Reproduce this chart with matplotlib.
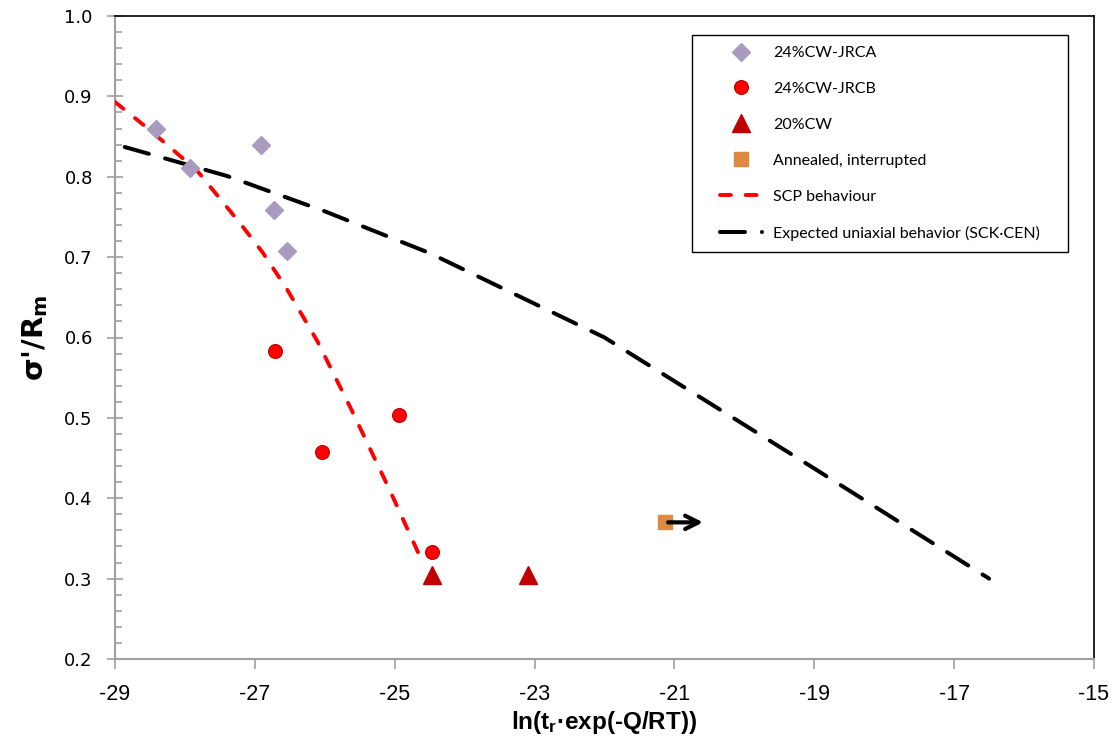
import numpy as np
import matplotlib
matplotlib.use("Agg")
from matplotlib import pyplot as plt
from matplotlib.patches import Rectangle
from matplotlib.ticker import MultipleLocator, FormatStrFormatter

# data
jrca_x = [-28.41, -27.93, -26.91, -26.73, -26.54]
jrca_y = [0.860, 0.811, 0.840, 0.759, 0.708]

jrcb_x = [-26.71, -26.04, -24.94, -24.47]
jrcb_y = [0.583, 0.458, 0.504, 0.333]

cw20_x = [-24.46, -23.09]
cw20_y = [0.305, 0.305]

ann_x = [-21.13]
ann_y = [0.370]
ann_arrow_to = -20.55

scp_x = [-29.0, -28.5, -27.83, -27.21, -26.89, -26.54, -26.11, -25.64, -25.07, -24.6]
scp_y = [0.893, 0.858, 0.808, 0.742, 0.706, 0.660, 0.596, 0.514, 0.410, 0.320]

sck_x = [-28.86, -27.4, -26.0, -24.5, -22.0, -19.0, -16.5]
sck_y = [0.837, 0.801, 0.757, 0.705, 0.600, 0.437, 0.300]

x_ticks = [-29, -27, -25, -23, -21, -19, -17, -15]

labels = ["24%CW-JRCA", "24%CW-JRCB", "20%CW", "Annealed, interrupted",
          "SCP behaviour", "Expected uniaxial behavior (SCK\u00b7CEN)"]


def main():
    plt.rcParams['mathtext.default'] = 'regular'
    plt.rcParams['axes.unicode_minus'] = False
    narrow = ['Liberation Sans Narrow', 'Liberation Sans']

    W, H = 1116, 747
    fig = plt.figure(figsize=(W / 100, H / 100), dpi=100)
    ax = fig.add_axes([115 / W, 1 - 659 / H, (1094 - 115) / W, (659 - 16) / H])

    ax.plot(jrca_x, jrca_y, 'D', color='#A99BBD', ms=9.5, mec='#A99BBD', label=labels[0], zorder=4)
    ax.plot(jrcb_x, jrcb_y, 'o', color='#FF0000', ms=10, mec='#C00000', mew=0.8, label=labels[1], zorder=4)
    ax.plot(cw20_x, cw20_y, '^', color='#C00000', ms=13, mec='#C00000', label=labels[2], zorder=4)
    ax.plot(ann_x, ann_y, 's', color='#DE8841', ms=9.5, mec='#DE8841', label=labels[3], zorder=4)
    ax.plot(scp_x, scp_y, color='#FF0000', lw=2.8, dashes=(2.8, 3.8), dash_capstyle='round',
            label=labels[4], zorder=3)
    ax.plot(sck_x, sck_y, color='black', lw=2.9, dashes=(6.2, 4.2), dash_capstyle='round',
            label=labels[5], zorder=3)

    ax.annotate('', xy=(ann_arrow_to, ann_y[0]), xytext=(ann_x[0], ann_y[0]),
                arrowprops=dict(arrowstyle='->', color='black', lw=3, mutation_scale=24),
                zorder=5)

    ax.set_xlim(-29, -15)
    ax.set_ylim(0.2, 1.0)
    ax.set_xticks(x_ticks)
    ax.yaxis.set_major_locator(MultipleLocator(0.1))
    ax.yaxis.set_minor_locator(MultipleLocator(0.02))
    ax.yaxis.set_major_formatter(FormatStrFormatter('%.1f'))

    for s in ['left', 'bottom']:
        ax.spines[s].set_color('#A0A0A0')
        ax.spines[s].set_linewidth(1.5)
    for s in ['top', 'right']:
        ax.spines[s].set_color('black')
        ax.spines[s].set_linewidth(1.2)

    ax.tick_params(axis='y', which='major', direction='inout', length=12, width=1.2,
                   color='#A0A0A0', labelsize=13, pad=10)
    ax.tick_params(axis='y', which='minor', direction='in', length=5, width=1.2, color='#A0A0A0')
    ax.tick_params(axis='x', which='major', direction='out', length=7, width=1.2,
                   color='#A0A0A0', pad=11)
    for t in ax.get_xticklabels():
        t.set_family(narrow)
        t.set_fontsize(15.5)

    ax.set_xlabel("ln(t$_r$\u00b7exp(-Q/RT))", family=narrow,
                  fontsize=17.5, fontweight='bold', labelpad=3)
    ax.set_ylabel("\u03c3'/R$_m$", fontsize=21, fontweight='bold', labelpad=10)

    # legend without frame, box drawn separately to match the wide padding
    leg = ax.legend(loc='upper left', bbox_to_anchor=(720 / W, 1 - 46 / H),
                    bbox_transform=fig.transFigure,
                    prop={'family': 'Lato', 'size': 11.5}, frameon=False,
                    labelspacing=1.36, borderpad=0, handlelength=2.6, handletextpad=0.7,
                    borderaxespad=0, numpoints=1)
    leg.set_zorder(6)
    fig.patches.append(Rectangle((692 / W, 1 - 252 / H), (1068 - 692) / W, (252 - 35) / H,
                                 transform=fig.transFigure, facecolor='white',
                                 edgecolor='black', lw=1.0, zorder=1))
    ax.set_zorder(2)
    ax.patch.set_alpha(0)

    fig.savefig('out.png', dpi=100)


if __name__ == '__main__':
    main()
